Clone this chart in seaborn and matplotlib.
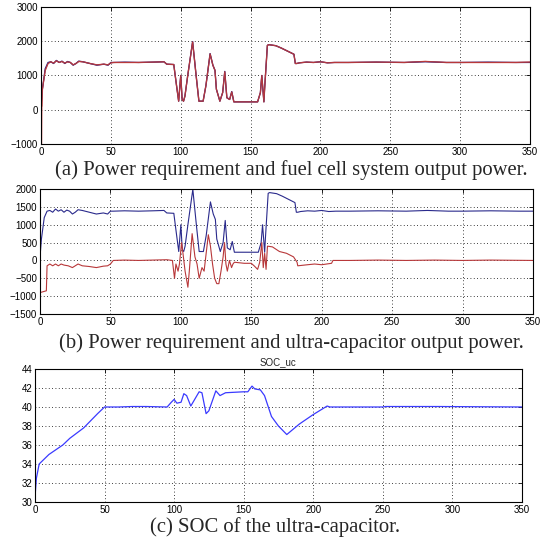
import matplotlib
matplotlib.use('Agg')
import matplotlib.pyplot as plt
import seaborn as sns
import numpy as np
import pandas as pd

# power requirement (blue) (a) and (b)
t_req = [0, 1, 3, 5, 7, 9, 11, 13, 15, 17, 19, 21, 23, 25, 27, 30, 35, 40, 45, 48, 50, 52,
         60, 70, 80, 88, 90, 95, 97, 98.5, 100, 101, 102, 103, 105, 108.5, 111, 113, 116,
         118, 121, 123, 124.5, 125.5, 128, 130, 131.5, 133, 135, 136.5, 138, 145, 155, 157,
         158, 159.5, 160, 162, 163, 168, 172, 176, 181, 182, 183, 185, 190, 195, 200, 205,
         210, 220, 240, 260, 275, 290, 300, 320, 340, 350]
p_req = [100, 600, 1200, 1380, 1400, 1350, 1440, 1380, 1420, 1350, 1410, 1380, 1300, 1350,
         1420, 1400, 1350, 1300, 1330, 1300, 1380, 1380, 1390, 1380, 1390, 1400, 1330, 1320,
         700, 250, 1000, 300, 250, 400, 1000, 1990, 1000, 250, 250, 700, 1640, 1300, 1150,
         600, 250, 500, 1120, 350, 300, 530, 230, 230, 230, 500, 1000, 230, 600, 1880, 1900,
         1870, 1800, 1720, 1620, 1350, 1350, 1370, 1390, 1380, 1400, 1370, 1380, 1380, 1390,
         1380, 1400, 1380, 1380, 1390, 1380, 1380]

# fuel cell system output (red, panel a)
t_fc = [0, 0.3, 0.6] + t_req[1:]
p_fc = [3000, -1000, 100] + [600, 1150, 1350, 1400, 1360, 1430, 1380, 1410, 1360, 1400, 1380,
        1310, 1350, 1410, 1400, 1350, 1310, 1330, 1310, 1370, 1380, 1380, 1380, 1390, 1400,
        1330, 1320, 700, 250, 1000, 300, 250, 400, 1000, 1980, 1000, 250, 250, 700, 1630,
        1300, 1150, 600, 250, 500, 1110, 350, 300, 520, 230, 230, 230, 500, 1000, 230, 600,
        1880, 1900, 1870, 1800, 1720, 1620, 1350, 1350, 1370, 1390, 1380, 1400, 1370, 1380,
        1380, 1390, 1380, 1410, 1380, 1380, 1380, 1380, 1390]

# ultra-capacitor output (red, panel b)
t_uc = [0, 4.5, 5, 7, 9, 11, 13, 15, 17, 20, 23, 25, 27, 30, 35, 40, 45, 48, 50, 52, 60, 70,
        80, 90, 94, 95.5, 96.5, 98, 99, 100.5, 101.5, 103, 105, 106, 108, 110, 111.5, 113,
        115, 116.5, 119.5, 121, 122.5, 124, 125.5, 127, 128.5, 130, 131, 132, 133, 134.5,
        136, 137, 138, 145, 150, 152, 154.5, 156, 157.5, 158.5, 159.5, 160.5, 161.5, 165,
        170, 175, 180, 182.5, 183, 190, 195, 200, 207, 208, 220, 240, 260, 280, 300, 320, 350]
p_uc = [-900, -850, -150, -100, -150, -100, -150, -100, -130, -150, -200, -150, -100, -150,
        -170, -200, -160, -150, -100, 0, 10, 0, 10, 20, 0, -500, -100, -300, -100, 500, 200,
        -300, -750, -300, 750, 100, -100, -500, -200, -300, 720, 400, -100, -500, -650, -650,
        -300, 100, 500, -100, -300, 0, -200, -100, -50, -80, -80, -150, -250, -50, 500, -200,
        200, -250, 400, 380, 250, 200, 100, -50, -150, -120, -100, -120, -80, 0, 0, 10, 0, 10,
        0, 10, 0]

# SOC of the ultra-capacitor (panel c)
t_soc = [0, 1, 3, 10, 20, 25, 35, 45, 50, 60, 70, 80, 95, 98, 100, 102, 105, 107, 109, 112,
         118, 120, 123, 125, 130, 133, 137, 150, 153, 156, 158, 162, 165, 170, 175, 181, 190,
         200, 210, 212, 250, 252, 290, 350]
soc = [30.5, 32.5, 34, 35, 36, 36.7, 37.8, 39.3, 40, 40, 40.05, 40.05, 40, 40.5, 40.8, 40.4,
       40.5, 41.4, 41.2, 40.1, 41.6, 41.5, 39.3, 39.6, 41.7, 41.2, 41.5, 41.6, 41.6, 42.2,
       41.9, 41.8, 41.2, 39, 38, 37.1, 38.2, 39.2, 40.1, 40, 40, 40.05, 40.05, 40]

sns.set_style('white')
plt.rcParams['font.family'] = ['Liberation Sans', 'DejaVu Sans']

fig = plt.figure(figsize=(5.52, 5.46), dpi=100)

def style_axes(ax, ylim, yticks):
    ax.set_xlim(0, 350)
    ax.set_ylim(*ylim)
    ax.set_xticks(range(0, 351, 50))
    ax.set_yticks(yticks)
    ax.grid(True, color='black', linestyle=(0, (1, 3)), linewidth=0.6)
    ax.tick_params(direction='in', length=3, width=0.6, labelsize=7, pad=2,
                   top=True, right=True, colors='black')
    for s in ax.spines.values():
        s.set_color('black')
        s.set_linewidth(0.8)
    ax.set_xlabel('')
    ax.set_ylabel('')

blue = '#2a2a8c'
red = '#b8383a'

ax_a = fig.add_axes([0.0743, 0.7363, 0.886, 0.2509])
sns.lineplot(x=t_fc, y=p_fc, ax=ax_a, color='#e07070', linewidth=1.0)
sns.lineplot(x=t_req, y=p_req, ax=ax_a, color=blue, linewidth=0.9)
sns.lineplot(x=t_fc[2:], y=p_fc[2:], ax=ax_a, color=red, linewidth=0.8)
style_axes(ax_a, (-1000, 3000), range(-1000, 3001, 1000))

ax_b = fig.add_axes([0.0725, 0.4249, 0.893, 0.2289])
sns.lineplot(x=t_req, y=p_req, ax=ax_b, color=blue, linewidth=0.8)
sns.lineplot(x=t_uc, y=p_uc, ax=ax_b, color=red, linewidth=0.8)
style_axes(ax_b, (-1500, 2000), range(-1500, 2001, 500))

ax_c = fig.add_axes([0.0634, 0.0806, 0.882, 0.2436])
sns.lineplot(x=t_soc, y=soc, ax=ax_c, color='#3a3aff', linewidth=0.9)
style_axes(ax_c, (30, 44), range(30, 45, 2))
ax_c.set_title('SOC_uc', fontsize=7, pad=3)

cap = dict(ha='center', va='center', fontsize=14.9, family='Liberation Serif')
fig.text(0.528, 0.6886, '(a) Power requirement and fuel cell system output power.', **cap)
fig.text(0.528, 0.3718, '(b) Power requirement and ultra-capacitor output power.', **cap)
fig.text(0.498, 0.035, '(c) SOC of the ultra-capacitor.', **cap)

fig.savefig('out.png', dpi=100)
